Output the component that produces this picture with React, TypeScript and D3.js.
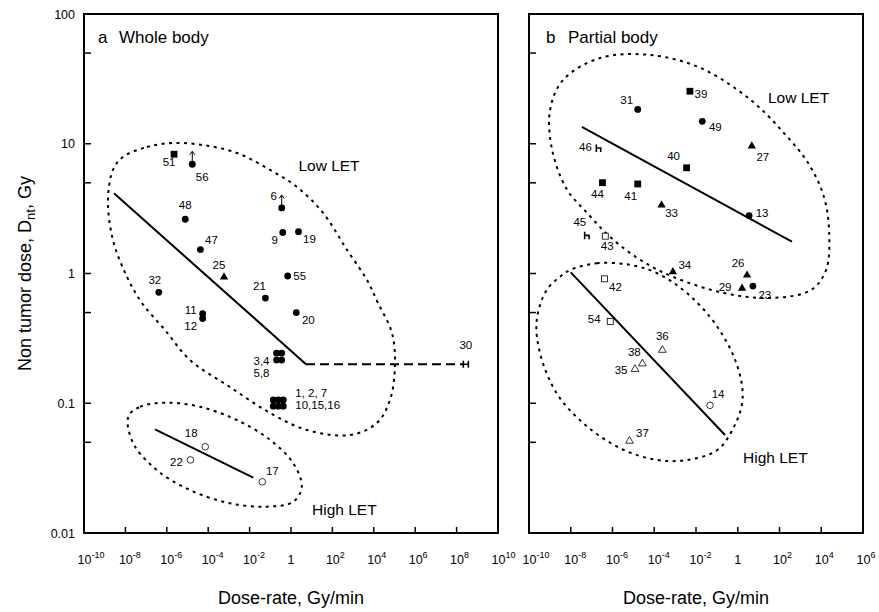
import React from "react";
import * as d3 from "d3";

const W = 879;
const H = 612;

// ---- Panel a: whole body ----
const idsA = ["51", "56", "48", "47", "25", "32", "11", "12", "6", "9", "19", "55", "21", "20",
  "3", "4", "5", "8", "1", "2", "7", "10", "15", "16", "18", "22", "17", "30"];
const rateA = [2.24e-6, 1.7e-5, 7.8e-6, 4.2e-5, 5.8e-4, 4.1e-7, 5.4e-5, 5.4e-5, 0.355, 0.4, 2.3, 0.69, 0.058, 1.8,
  0.2, 0.355, 0.2, 0.355, 0.139, 0.243, 0.425, 0.139, 0.243, 0.425, 7.2e-5, 1.38e-5, 0.041, 2.8e8];
const doseA = [8.3, 6.95, 2.62, 1.53, 0.94, 0.716, 0.49, 0.45, 3.2, 2.07, 2.1, 0.957, 0.647, 0.5,
  0.243, 0.243, 0.215, 0.215, 0.106, 0.106, 0.106, 0.095, 0.095, 0.095, 0.0462, 0.0366, 0.0248, 0.2];
const markA = ["sq", "ci", "ci", "ci", "tr", "ci", "ci", "ci", "ci", "ci", "ci", "ci", "ci", "ci",
  "ci", "ci", "ci", "ci", "ci", "ci", "ci", "ci", "ci", "ci", "oc", "oc", "oc", "H"];
const lowerBoundA = ["56", "6"];

// fitted lines (rate, dose)
const lowFitA: [number, number][] = [[2.8e-9, 4.15], [5.3, 0.2]];
const lowFitDashA: [number, number][] = [[5.3, 0.2], [2.1e8, 0.2]];
const highFitA: [number, number][] = [[2.7e-7, 0.063], [0.015, 0.0267]];

// group outlines as [log10 rate, log10 dose]
const lowOutlineA: [number, number][] = [
  [-8.12, 0.898], [-6.96, 0.975], [-5.7, 1.006], [-4.25, 0.99], [-2.61, 0.929], [-1.01, 0.798],
  [0.29, 0.667], [1.55, 0.467], [2.71, 0.181], [3.67, -0.05], [4.2, -0.227], [4.88, -0.459],
  [5.02, -0.721], [4.78, -0.975], [4.15, -1.152], [2.85, -1.245], [0.77, -1.206], [-1.01, -1.075],
  [-2.95, -0.875], [-4.88, -0.667], [-6.09, -0.435], [-7.2, -0.227], [-7.92, -0.027], [-8.6, 0.258],
  [-8.84, 0.566], [-8.6, 0.798],
];
const highOutlineA: [number, number][] = [
  [-7.86, -1.104], [-7.29, -1.027], [-6.0, -0.996], [-4.4, -1.027], [-2.62, -1.129], [-1.01, -1.283],
  [0.11, -1.463], [0.52, -1.643], [0.11, -1.759], [-1.17, -1.797], [-2.95, -1.771], [-4.88, -1.669],
  [-6.49, -1.514], [-7.62, -1.309],
];

// ---- Panel b: partial body ----
const idsB = ["39", "31", "49", "27", "46", "40", "44", "41", "33", "13", "45", "43", "34", "26", "29", "23",
  "42", "54", "36", "38", "35", "14", "37"];
const rateB = [5.1e-3, 1.62e-5, 0.02, 4.7, 2.14e-7, 3.55e-3, 3.3e-7, 1.62e-5, 2.24e-4, 3.5, 5.9e-8, 4.5e-7,
  7.8e-4, 2.8, 1.61, 5.3, 4.1e-7, 7.8e-7, 2.45e-4, 2.7e-5, 1.2e-5, 0.047, 6.5e-6];
const doseB = [25.4, 18.4, 14.9, 9.6, 9.2, 6.53, 5.01, 4.9, 3.37, 2.79, 1.95, 1.94, 1.03, 0.97, 0.77, 0.8,
  0.91, 0.426, 0.257, 0.202, 0.183, 0.0964, 0.0512];
const markB = ["sq", "ci", "ci", "tr", "h", "sq", "sq", "sq", "tr", "ci", "h", "os", "tr", "tr", "tr", "ci",
  "os", "os", "ot", "ot", "ot", "oc", "ot"];

const lowFitB: [number, number][] = [[3.4e-8, 13.5], [394, 1.76]];
const highFitB: [number, number][] = [[1e-8, 1.02], [0.245, 0.0569]];

const lowOutlineB: [number, number][] = [
  [-6.59, 1.661], [-4.18, 1.684], [-1.78, 1.584], [0.625, 1.337], [2.21, 1.083], [3.37, 0.852],
  [4.13, 0.59], [4.38, 0.312], [4.23, 0.027], [3.51, -0.127], [1.59, -0.189], [-0.67, -0.15],
  [-3.08, -0.027], [-4.66, 0.104], [-6.11, 0.281], [-7.21, 0.466], [-8.17, 0.644], [-8.89, 0.952],
  [-8.99, 1.26], [-8.37, 1.491],
];
const highOutlineB: [number, number][] = [
  [-8.03, 0.027], [-6.75, 0.079], [-5.14, 0.066], [-3.86, 0.002], [-2.42, -0.153], [-0.98, -0.41],
  [-0.01, -0.718], [0.23, -0.975], [-0.18, -1.181], [-0.98, -1.36], [-2.42, -1.437], [-3.86, -1.437],
  [-5.63, -1.347], [-7.39, -1.155], [-8.67, -0.924], [-9.47, -0.615], [-9.63, -0.358], [-9.15, -0.127],
  [-8.51, -0.025],
];

// axis ticks
const yLabels = [100, 10, 1, 0.1, 0.01];
const yMinor = [50, 5, 0.5, 0.05];
const xExpA = [-10, -8, -6, -4, -2, 0, 2, 4, 6, 8, 10];
const xExpB = [-10, -8, -6, -4, -2, 0, 2, 4, 6];

// label placement (px offsets from the point)
const labelPosA: Record<string, [number, number]> = {
  "51": [-5, 8], "56": [10, 13], "48": [0, -14], "47": [11, -10], "25": [-5, -12], "32": [-4, -12],
  "11": [-12, -4], "12": [-12, 8], "6": [-8, -12], "9": [-8, 7], "19": [11, 7], "55": [12, 0],
  "21": [-6, -12], "20": [12, 7], "18": [-14, -14], "22": [-14, 2], "17": [10, -11], "30": [0, -19],
};
const groupLabelsA = [
  { text: "3,4", ref: "5", dx: -7, dy: 1, anchor: "end" },
  { text: "5,8", ref: "5", dx: -7, dy: 13, anchor: "end" },
  { text: "1, 2, 7", ref: "7", dx: 12, dy: -7, anchor: "start" },
  { text: "10,15,16", ref: "16", dx: 12, dy: -1, anchor: "start" },
];
const labelPosB: Record<string, [number, number]> = {
  "39": [11, 3], "31": [-11, -9], "49": [13, 6], "27": [11, 11], "46": [-13, -1], "40": [-13, -12],
  "44": [-5, 11], "41": [-7, 12], "33": [10, 8], "13": [13, -3], "45": [-7, -14], "43": [2, 10],
  "34": [12, -7], "26": [-9, -12], "29": [-17, -1], "23": [12, 9], "42": [11, 8], "54": [-16, -3],
  "36": [0, -14], "38": [-8, -12], "35": [-14, 1], "14": [8, -11], "37": [13, -8],
};

const FONT = "'Liberation Sans', Arial, Helvetica, sans-serif";

const y = d3.scaleLog().domain([0.01, 100]).range([533, 14]);
const xA = d3.scaleLog().domain([1e-10, 1e10]).range([84, 498]);
const xB = d3.scaleLog().domain([1e-10, 1e6]).range([529, 863]);

function Marker({ kind, cx, cy }: { kind: string; cx: number; cy: number }) {
  const tri = d3.symbol(d3.symbolTriangle, 30)() as string;
  const triO = d3.symbol(d3.symbolTriangle, 26)() as string;
  switch (kind) {
    case "ci":
      return <circle cx={cx} cy={cy} r={3.4} fill="#000" />;
    case "oc":
      return <circle cx={cx} cy={cy} r={3.3} fill="#fff" stroke="#000" strokeWidth={0.8} />;
    case "sq":
      return <rect x={cx - 3.4} y={cy - 3.4} width={6.8} height={6.8} fill="#000" />;
    case "os":
      return <rect x={cx - 3} y={cy - 3} width={6} height={6} fill="#fff" stroke="#000" strokeWidth={0.8} />;
    case "tr":
      return <path d={tri} transform={`translate(${cx},${cy})`} fill="#000" />;
    case "ot":
      return <path d={triO} transform={`translate(${cx},${cy})`} fill="#fff" stroke="#000" strokeWidth={0.8} />;
    case "H":
      return (
        <path d={`M${cx - 2.5},${cy - 3.5}V${cy + 3.5}M${cx + 2.5},${cy - 3.5}V${cy + 3.5}M${cx - 2.5},${cy}H${cx + 2.5}`}
          stroke="#000" strokeWidth={1.6} fill="none" />
      );
    case "h":
      return (
        <path d={`M${cx - 2.2},${cy - 4}V${cy + 3.5}M${cx - 2.2},${cy - 0.5}H${cx + 2.2}V${cy + 3.5}`}
          stroke="#000" strokeWidth={1.6} fill="none" />
      );
    default:
      return null;
  }
}

function PowLabel({ x, yy, exp }: { x: number; yy: number; exp: number }) {
  if (exp === 0) {
    return <text x={x} y={yy} textAnchor="middle" fontSize={12.5}>1</text>;
  }
  return (
    <text x={x - 6.5} y={yy} fontSize={12.5}>
      10<tspan dy={-6} fontSize={9}>{String(exp)}</tspan>
    </text>
  );
}

function Panel(props: {
  x: d3.ScaleLogarithmic<number, number>;
  ids: string[]; rates: number[]; doses: number[]; marks: string[];
  labelPos: Record<string, [number, number]>;
  lowOutline: [number, number][]; highOutline: [number, number][];
  lowFit: [number, number][]; highFit: [number, number][]; dashFit?: [number, number][];
  exps: number[]; yLabelsOn: boolean; bounds?: string[];
  groups?: { text: string; ref: string; dx: number; dy: number; anchor: string }[];
}) {
  const { x } = props;
  const [x0, x1] = x.range();
  const [y0, y1] = y.range();
  const outline = d3.line<[number, number]>()
    .x((d) => x(Math.pow(10, d[0])))
    .y((d) => y(Math.pow(10, d[1])))
    .curve(d3.curveCatmullRomClosed.alpha(0.5));
  const fit = d3.line<[number, number]>().x((d) => x(d[0])).y((d) => y(d[1]));
  const pos = (id: string) => {
    const i = props.ids.indexOf(id);
    return [x(props.rates[i]), y(props.doses[i])];
  };
  return (
    <g>
      {/* frame */}
      <rect x={x0} y={y1} width={x1 - x0} height={y0 - y1} fill="none" stroke="#000" strokeWidth={2} />
      {/* y ticks */}
      {[...yLabels.slice(1, -1), ...yMinor].map((v) => (
        <line key={"yt" + v} x1={x0} x2={x0 + 7} y1={y(v)} y2={y(v)} stroke="#000" strokeWidth={1.5} />
      ))}
      {props.yLabelsOn && yLabels.map((v) => (
        <text key={"yl" + v} x={x0 - 9} y={y(v) + 4.5} textAnchor="end" fontSize={12.5}>{String(v)}</text>
      ))}
      {/* x ticks */}
      {props.exps.slice(1, -1).map((e) => (
        <line key={"xt" + e} x1={x(Math.pow(10, e))} x2={x(Math.pow(10, e))} y1={y0} y2={y0 - 6} stroke="#000" strokeWidth={1.5} />
      ))}
      {props.exps.map((e) => (
        <PowLabel key={"xl" + e} x={x(Math.pow(10, e))} yy={y0 + 31} exp={e} />
      ))}
      {/* outlines */}
      <path d={outline(props.lowOutline) as string} fill="none" stroke="#000" strokeWidth={2} strokeDasharray="3 4.5" />
      <path d={outline(props.highOutline) as string} fill="none" stroke="#000" strokeWidth={2} strokeDasharray="3 4.5" />
      {/* fits */}
      <path d={fit(props.lowFit) as string} fill="none" stroke="#000" strokeWidth={2} />
      <path d={fit(props.highFit) as string} fill="none" stroke="#000" strokeWidth={2} />
      {props.dashFit && (
        <path d={fit(props.dashFit) as string} fill="none" stroke="#000" strokeWidth={2} strokeDasharray="9 5" />
      )}
      {/* lower-bound arrows */}
      {(props.bounds || []).map((id) => {
        const [px, py] = pos(id);
        return (
          <path key={"ar" + id} d={`M${px},${py}V${py - 13}M${px - 2.5},${py - 9.5}L${px},${py - 13}L${px + 2.5},${py - 9.5}`}
            fill="none" stroke="#000" strokeWidth={1} />
        );
      })}
      {/* points */}
      {props.ids.map((id, i) => (
        <Marker key={"m" + id} kind={props.marks[i]} cx={x(props.rates[i])} cy={y(props.doses[i])} />
      ))}
      {/* labels */}
      {props.ids.filter((id) => props.labelPos[id]).map((id) => {
        const [px, py] = pos(id);
        const [dx, dy] = props.labelPos[id];
        return (
          <text key={"t" + id} x={px + dx} y={py + dy + 4} textAnchor="middle" fontSize={11.5}>{id}</text>
        );
      })}
      {(props.groups || []).map((g) => {
        const [px, py] = pos(g.ref);
        return (
          <text key={"g" + g.text} x={px + g.dx} y={py + g.dy + 4} textAnchor={g.anchor as any} fontSize={11.5}>{g.text}</text>
        );
      })}
    </g>
  );
}

export default function App() {
  return (
    <svg width={W} height={H} viewBox={`0 0 ${W} ${H}`}
      style={{ position: "absolute", left: 0, top: 0, background: "#fff", fontFamily: FONT }}>
      <rect width={W} height={H} fill="#fff" />
      <Panel x={xA} ids={idsA} rates={rateA} doses={doseA} marks={markA} labelPos={labelPosA}
        lowOutline={lowOutlineA} highOutline={highOutlineA} lowFit={lowFitA} highFit={highFitA}
        dashFit={lowFitDashA} exps={xExpA} yLabelsOn={true} bounds={lowerBoundA} groups={groupLabelsA} />
      <Panel x={xB} ids={idsB} rates={rateB} doses={doseB} marks={markB} labelPos={labelPosB}
        lowOutline={lowOutlineB} highOutline={highOutlineB} lowFit={lowFitB} highFit={highFitB}
        exps={xExpB} yLabelsOn={false} />

      {/* panel titles */}
      <text x={98} y={43} fontSize={17}>a</text>
      <text x={119} y={43} fontSize={17}>Whole body</text>
      <text x={546} y={43} fontSize={17}>b</text>
      <text x={568} y={43} fontSize={17}>Partial body</text>

      {/* group names */}
      <text x={329} y={171} textAnchor="middle" fontSize={15.5}>Low LET</text>
      <text x={312} y={515} fontSize={15.5}>High LET</text>
      <text x={768} y={103} fontSize={15.5}>Low LET</text>
      <text x={743} y={463} fontSize={15.5}>High LET</text>

      {/* axis titles */}
      <text x={xA(1)} y={604} textAnchor="middle" fontSize={18}>Dose-rate, Gy/min</text>
      <text x={(xB.range()[0] + xB.range()[1]) / 2 + 0} y={604} textAnchor="middle" fontSize={18}>Dose-rate, Gy/min</text>
      <text transform={`translate(31,${y(1)}) rotate(-90)`} textAnchor="middle" fontSize={18}>
        Non tumor dose, D<tspan dy={4} fontSize={13}>nt</tspan><tspan dy={-4}>, Gy</tspan>
      </text>
    </svg>
  );
}
